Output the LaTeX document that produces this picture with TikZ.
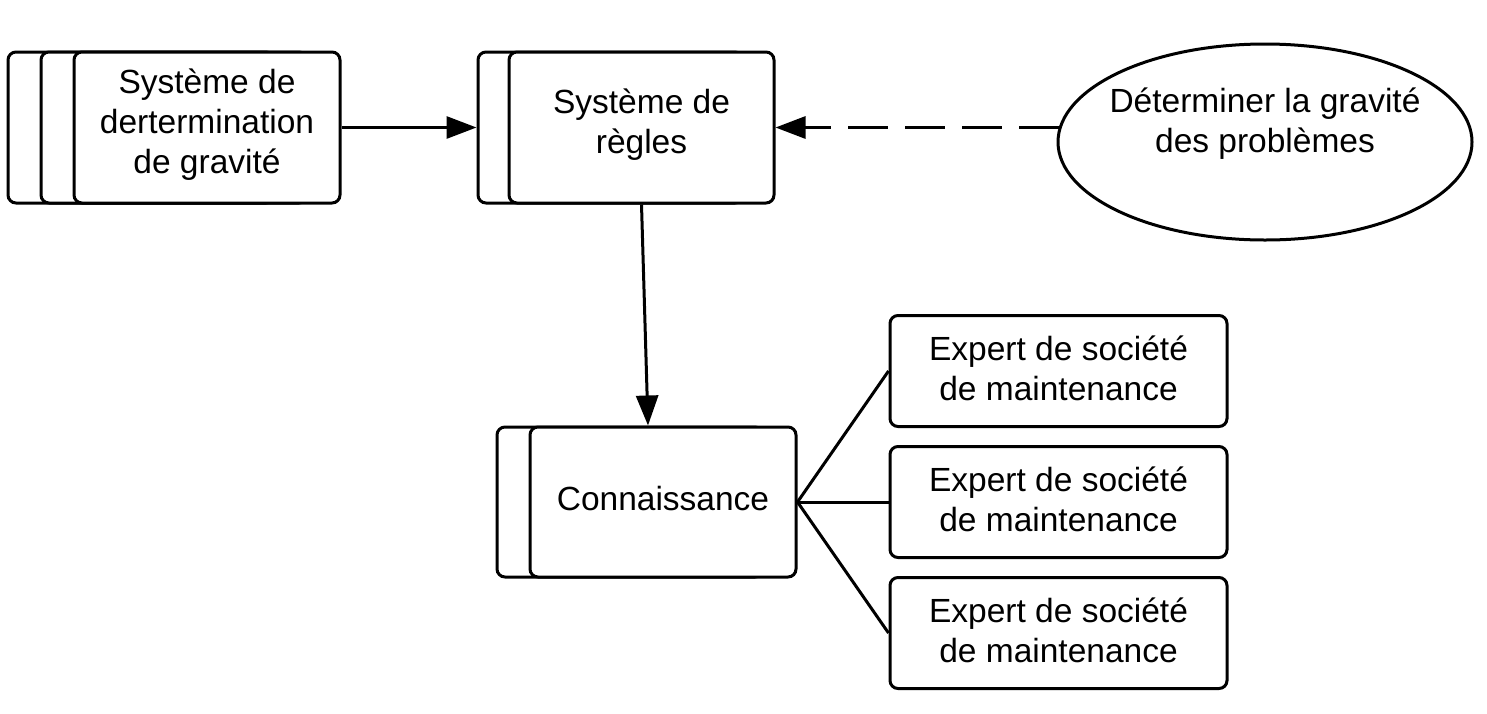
\documentclass[tikz,border=0pt]{standalone}
\usepackage{fontspec}
\setmainfont{Liberation Sans}
\usetikzlibrary{arrows.meta,shapes.geometric,calc}
\begin{document}
\begin{tikzpicture}[x=1pt,y=-1pt,
  boxshape/.style={draw,line width=3pt,rounded corners=8pt,fill=white,inner sep=0pt},
  lbl/.style={font=\fontsize{33.5}{40}\selectfont,align=center,inner sep=0pt},
  arr/.style={line width=3pt,-{Triangle[length=30pt,width=22pt]}},
  plain/.style={line width=3pt}]
\useasboundingbox (0,0) rectangle (1487,713);
% left stack
\node[boxshape,minimum width=266pt,minimum height=151pt] (s1c) at (141,127.5) {};
\node[boxshape,minimum width=266pt,minimum height=151pt] (s1b) at (174,127.5) {};
\node[boxshape,minimum width=266pt,minimum height=151pt] (s1) at (207,127.5) {};
\node[lbl] (t1) at ([yshift=3pt]s1.center) {Système de\\dertermination\\de gravité};
% middle stack
\node[boxshape,minimum width=265pt,minimum height=151pt] (s2b) at (610.5,127.5) {};
\node[boxshape,minimum width=265pt,minimum height=151pt] (s2) at (641.5,127.5) {};
\node[lbl] (t2) at ([yshift=3pt]s2.center) {Système de\\règles};
% ellipse
\node[draw,line width=3pt,ellipse,minimum width=414pt,minimum height=196pt,inner sep=0pt] (ell) at (1265,142) {};
\node[lbl] (t3) at (1265,124) {Déterminer la gravité\\des problèmes};
% connaissance
\node[boxshape,minimum width=266pt,minimum height=150pt] (kb) at (630,502) {};
\node[boxshape,minimum width=266pt,minimum height=150pt] (k) at (663,502) {};
\node[lbl] (t4) at ([yshift=3pt]k.center) {Connaissance};
% experts
\node[boxshape,minimum width=337pt,minimum height=111pt] (e1) at (1058.5,371) {};
\node[boxshape,minimum width=337pt,minimum height=111pt] (e2) at (1058.5,502) {};
\node[boxshape,minimum width=337pt,minimum height=111pt] (e3) at (1058.5,633) {};
\node[lbl] (t5) at ([yshift=3pt]e1.center) {Expert de société\\de maintenance};
\node[lbl] (t6) at ([yshift=3pt]e2.center) {Expert de société\\de maintenance};
\node[lbl] (t7) at ([yshift=3pt]e3.center) {Expert de société\\de maintenance};
% connectors
\draw[arr] (s1.east) -- (s2b.west);
\coordinate (dstart) at ([xshift=2pt]s2.east -| ell.west);
\draw[arr,dash pattern=on 40pt off 17pt] (dstart) -- (s2.east);
\draw[arr] (s2.south) -- ([xshift=-15pt]k.north);
\draw[plain] (k.east) -- (e1.west);
\draw[plain] (k.east) -- (e2.west);
\draw[plain] (k.east) -- (e3.west);
\end{tikzpicture}
\end{document}
